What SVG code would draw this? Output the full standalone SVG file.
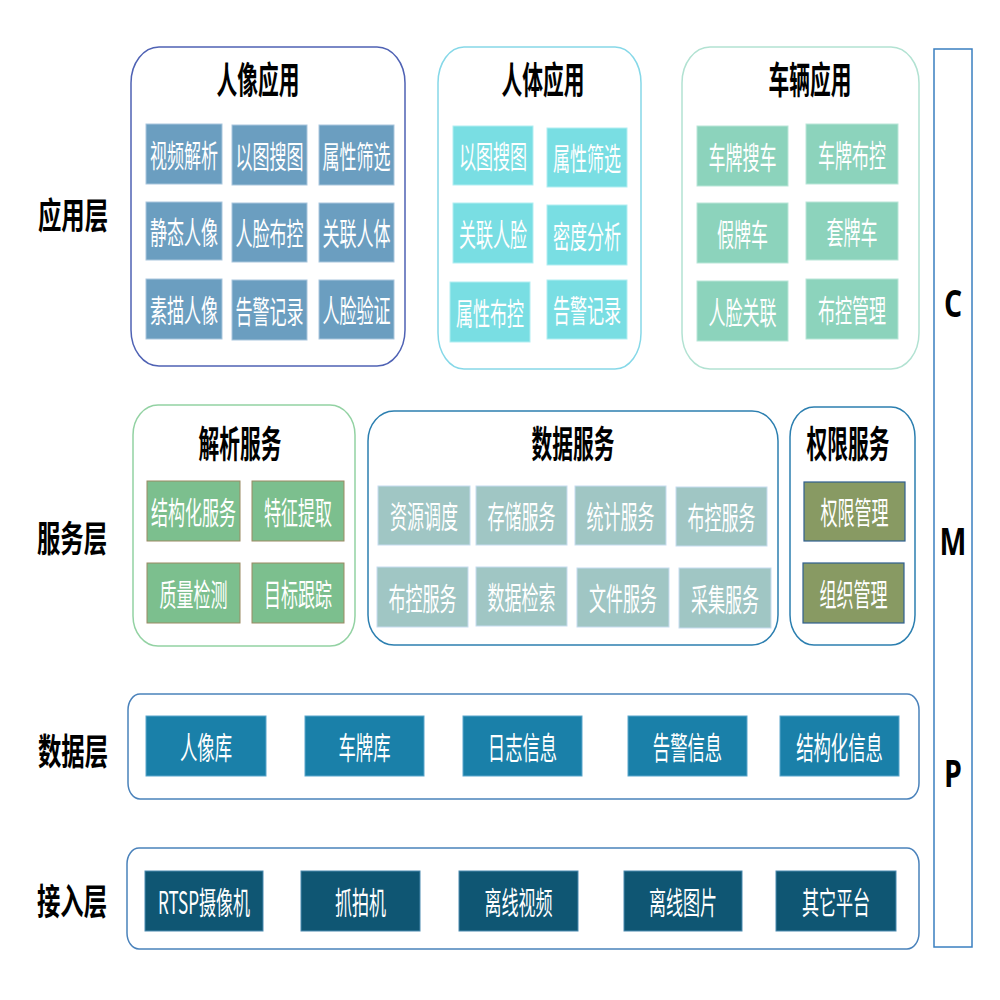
<svg xmlns="http://www.w3.org/2000/svg" width="1000" height="1000" viewBox="0 0 1000 1000">
<style>
.lbl{font-family:"Noto Sans CJK SC","Noto Sans",sans-serif;font-weight:700;font-size:36px;fill:#000;text-anchor:middle;dominant-baseline:central}
.ttl{font-family:"Noto Sans CJK SC","Noto Sans",sans-serif;font-weight:700;font-size:37px;fill:#000;text-anchor:middle;dominant-baseline:central}
.bt{font-family:"Noto Sans CJK SC","Noto Sans",sans-serif;font-size:31px;fill:#fff;text-anchor:middle;dominant-baseline:central}
.cmp{font-family:"Open Sans","Liberation Sans",sans-serif;font-weight:700;font-size:38px;fill:#000;text-anchor:middle;dominant-baseline:central}
.panel{fill:#fff;stroke-width:1.5}
.p1{stroke:#4f62b4}
.p2{stroke:#86d8e8}
.p3{stroke:#b2e2d2}
.p4{stroke:#93d2a3}
.p5{stroke:#2c7fb0}
.p6{stroke:#4a82bb}
.b1{fill:#6b9ec0;stroke:#a9c6dd;stroke-width:1}
.b2{fill:#79dee3;stroke:#b2eef2;stroke-width:1}
.b3{fill:#8cd3bc;stroke:#b9e6d8;stroke-width:1}
.b4{fill:#7cbf8e;stroke:#9a8a62;stroke-width:1}
.b5{fill:#a0c6c4;stroke:#c6dcef;stroke-width:1}
.b6{fill:#889a63;stroke:#2f5f8f;stroke-width:1.2}
.b7{fill:#1a80a9;stroke:#5aa6cc;stroke-width:1}
.b8{fill:#0f5673;stroke:#4a8ab0;stroke-width:1}
</style>

<g id="layer-labels">
<text class="lbl" transform="translate(73,214) scale(0.65,1)">应用层</text>
<text class="lbl" transform="translate(72,537) scale(0.65,1)">服务层</text>
<text class="lbl" transform="translate(73,750) scale(0.65,1)">数据层</text>
<text class="lbl" transform="translate(72,900) scale(0.65,1)">接入层</text>
</g>

<g id="cmp">
<rect x="934" y="49" width="38" height="898" fill="#fff" stroke="#3a7fc0" stroke-width="1.5"/>
<text class="cmp" transform="translate(953,302) scale(0.75,1)">C</text>
<text class="cmp" transform="translate(953,540) scale(0.75,1)">M</text>
<text class="cmp" transform="translate(953,772) scale(0.75,1)">P</text>
</g>

<g id="portrait-app">
<rect class="panel p1" x="131" y="47" width="274" height="319" rx="28" ry="36"/>
<text class="ttl" transform="translate(258,78) scale(0.56,1)">人像应用</text>
<rect class="b1" x="146" y="124" width="76" height="60"/><text class="bt" transform="translate(184,153) scale(0.55,1)">视频解析</text>
<rect class="b1" x="232" y="125" width="75" height="60"/><text class="bt" transform="translate(269.5,154) scale(0.55,1)">以图搜图</text>
<rect class="b1" x="319" y="125" width="75" height="60"/><text class="bt" transform="translate(356.5,154) scale(0.55,1)">属性筛选</text>
<rect class="b1" x="146" y="202" width="76" height="58"/><text class="bt" transform="translate(184,230) scale(0.55,1)">静态人像</text>
<rect class="b1" x="232" y="203" width="75" height="59"/><text class="bt" transform="translate(269.5,231.5) scale(0.55,1)">人脸布控</text>
<rect class="b1" x="319" y="203" width="75" height="59"/><text class="bt" transform="translate(356.5,231.5) scale(0.55,1)">关联人体</text>
<rect class="b1" x="146" y="279" width="76" height="60"/><text class="bt" transform="translate(184,308) scale(0.55,1)">素描人像</text>
<rect class="b1" x="232" y="280" width="75" height="60"/><text class="bt" transform="translate(269.5,309) scale(0.55,1)">告警记录</text>
<rect class="b1" x="319" y="280" width="75" height="59"/><text class="bt" transform="translate(356.5,308.5) scale(0.55,1)">人脸验证</text>
</g>

<g id="body-app">
<rect class="panel p2" x="438" y="47" width="203" height="322" rx="26" ry="36"/>
<text class="ttl" transform="translate(543,78) scale(0.56,1)">人体应用</text>
<rect class="b2" x="453" y="126" width="80" height="59"/><text class="bt" transform="translate(493,154.5) scale(0.55,1)">以图搜图</text>
<rect class="b2" x="547" y="128" width="80" height="59"/><text class="bt" transform="translate(587,156.5) scale(0.55,1)">属性筛选</text>
<rect class="b2" x="453" y="203" width="80" height="60"/><text class="bt" transform="translate(493,232) scale(0.55,1)">关联人脸</text>
<rect class="b2" x="547" y="205" width="80" height="60"/><text class="bt" transform="translate(587,234) scale(0.55,1)">密度分析</text>
<rect class="b2" x="450" y="282" width="80" height="60"/><text class="bt" transform="translate(490,311) scale(0.55,1)">属性布控</text>
<rect class="b2" x="547" y="280" width="80" height="59"/><text class="bt" transform="translate(587,308.5) scale(0.55,1)">告警记录</text>
</g>

<g id="vehicle-app">
<rect class="panel p3" x="682" y="47" width="237" height="322" rx="28" ry="36"/>
<text class="ttl" transform="translate(810,78) scale(0.56,1)">车辆应用</text>
<rect class="b3" x="697" y="126" width="91" height="60"/><text class="bt" transform="translate(742.5,155) scale(0.55,1)">车牌搜车</text>
<rect class="b3" x="806" y="124" width="92" height="60"/><text class="bt" transform="translate(852,153) scale(0.55,1)">车牌布控</text>
<rect class="b3" x="697" y="203" width="91" height="60"/><text class="bt" transform="translate(742.5,232) scale(0.55,1)">假牌车</text>
<rect class="b3" x="806" y="202" width="92" height="58"/><text class="bt" transform="translate(852,230) scale(0.55,1)">套牌车</text>
<rect class="b3" x="697" y="281" width="91" height="60"/><text class="bt" transform="translate(742.5,310) scale(0.55,1)">人脸关联</text>
<rect class="b3" x="806" y="279" width="92" height="60"/><text class="bt" transform="translate(852,308) scale(0.55,1)">布控管理</text>
</g>

<g id="analysis-service">
<rect class="panel p4" x="133" y="405" width="222" height="241" rx="25" ry="30"/>
<text class="ttl" transform="translate(240,442) scale(0.56,1)">解析服务</text>
<rect class="b4" x="147" y="481" width="93" height="60"/><text class="bt" transform="translate(193.5,510) scale(0.55,1)">结构化服务</text>
<rect class="b4" x="252" y="481" width="92" height="60"/><text class="bt" transform="translate(298,510) scale(0.55,1)">特征提取</text>
<rect class="b4" x="147" y="563" width="93" height="60"/><text class="bt" transform="translate(193.5,592) scale(0.55,1)">质量检测</text>
<rect class="b4" x="252" y="563" width="92" height="60"/><text class="bt" transform="translate(298,592) scale(0.55,1)">目标跟踪</text>
</g>

<g id="data-service">
<rect class="panel p5" x="368" y="411" width="410" height="234" rx="26" ry="30"/>
<text class="ttl" transform="translate(573,442) scale(0.56,1)">数据服务</text>
<rect class="b5" x="378" y="486" width="92" height="59"/><text class="bt" transform="translate(424,514.5) scale(0.55,1)">资源调度</text>
<rect class="b5" x="476" y="486" width="91" height="59"/><text class="bt" transform="translate(521.5,514.5) scale(0.55,1)">存储服务</text>
<rect class="b5" x="575" y="486" width="91" height="59"/><text class="bt" transform="translate(620.5,514.5) scale(0.55,1)">统计服务</text>
<rect class="b5" x="676" y="487" width="91" height="59"/><text class="bt" transform="translate(721.5,515.5) scale(0.55,1)">布控服务</text>
<rect class="b5" x="377" y="567" width="91" height="60"/><text class="bt" transform="translate(422.5,596) scale(0.55,1)">布控服务</text>
<rect class="b5" x="476" y="567" width="91" height="59"/><text class="bt" transform="translate(521.5,595.5) scale(0.55,1)">数据检索</text>
<rect class="b5" x="577" y="568" width="92" height="59"/><text class="bt" transform="translate(623,596.5) scale(0.55,1)">文件服务</text>
<rect class="b5" x="679" y="568" width="92" height="60"/><text class="bt" transform="translate(725,597) scale(0.55,1)">采集服务</text>
</g>

<g id="permission-service">
<rect class="panel p5" x="790" y="407" width="125" height="238" rx="24" ry="30"/>
<text class="ttl" transform="translate(848,442) scale(0.56,1)">权限服务</text>
<rect class="b6" x="804" y="482" width="101" height="59"/><text class="bt" transform="translate(854.5,510.5) scale(0.55,1)">权限管理</text>
<rect class="b6" x="803" y="563" width="101" height="60"/><text class="bt" transform="translate(853.5,592) scale(0.55,1)">组织管理</text>
</g>

<g id="data-layer">
<rect class="panel p6" x="128" y="694" width="791" height="105" rx="12" ry="16"/>
<rect class="b7" x="146" y="716" width="120" height="60"/><text class="bt" transform="translate(206,745) scale(0.56,1)">人像库</text>
<rect class="b7" x="305" y="716" width="119" height="60"/><text class="bt" transform="translate(364.5,745) scale(0.56,1)">车牌库</text>
<rect class="b7" x="463" y="716" width="119" height="60"/><text class="bt" transform="translate(522.5,745) scale(0.56,1)">日志信息</text>
<rect class="b7" x="628" y="716" width="119" height="60"/><text class="bt" transform="translate(687.5,745) scale(0.56,1)">告警信息</text>
<rect class="b7" x="780" y="716" width="119" height="60"/><text class="bt" transform="translate(839.5,745) scale(0.56,1)">结构化信息</text>
</g>

<g id="access-layer">
<rect class="panel p6" x="127" y="848" width="792" height="101" rx="12" ry="16"/>
<rect class="b8" x="145" y="871" width="118" height="60"/><text class="bt" transform="translate(204,900) scale(0.55,1)">RTSP摄像机</text>
<rect class="b8" x="301" y="871" width="119" height="60"/><text class="bt" transform="translate(360.5,900) scale(0.55,1)">抓拍机</text>
<rect class="b8" x="459" y="871" width="119" height="60"/><text class="bt" transform="translate(518.5,900) scale(0.55,1)">离线视频</text>
<rect class="b8" x="624" y="871" width="118" height="60"/><text class="bt" transform="translate(683,900) scale(0.55,1)">离线图片</text>
<rect class="b8" x="776" y="871" width="120" height="60"/><text class="bt" transform="translate(836,900) scale(0.55,1)">其它平台</text>
</g>

<g id="connectors"/>
</svg>
